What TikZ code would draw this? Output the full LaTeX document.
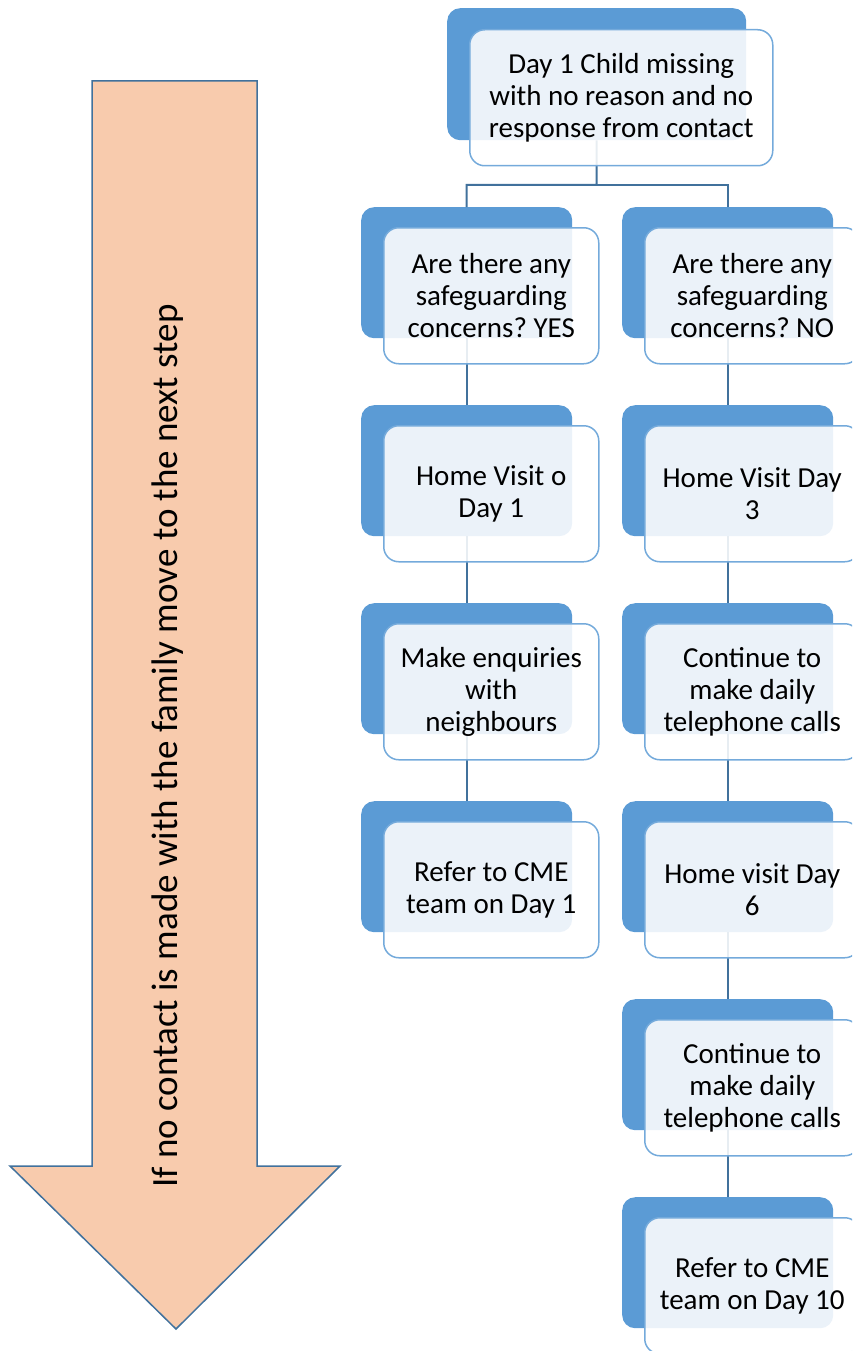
\documentclass[tikz,border=0pt]{standalone}
\usepackage{fontspec}
\setmainfont{Carlito}
\frenchspacing
\usetikzlibrary{positioning}
\definecolor{smartblue}{HTML}{5B9BD5}
\definecolor{linkblue}{HTML}{41719C}
\definecolor{peach}{HTML}{F8CBAD}
\tikzset{
  backbox/.style={fill=smartblue, rounded corners=13pt, minimum width=211pt, minimum height=131pt, inner sep=0pt, anchor=north west},
  frontbox/.style={draw=smartblue!85, line width=1.5pt, fill=white, fill opacity=0.88, text opacity=1, rounded corners=15pt, minimum width=215pt, minimum height=136pt, inner sep=0pt, align=center, font=\fontsize{29}{32}\selectfont, anchor=north west},
  link/.style={draw=linkblue, line width=2pt},
}
\begin{document}
\begin{tikzpicture}[x=1pt, y=-1pt]
  \useasboundingbox (0,0) rectangle (852,1351);
  \clip (0,0) rectangle (852,1351);
  % big arrow on the left
  \draw[linkblue, line width=1.5pt, fill=peach] (92,81) -- (257,81) -- (257,1166) -- (340,1166) -- (176,1329) -- (10,1166) -- (92,1166) -- cycle;
  \node[rotate=90, anchor=base, font=\fontsize{37}{40}\selectfont] (note) at (177,746) {If no contact is made with the family move to the next step};
  % back boxes
  \node[backbox, minimum width=299pt, minimum height=132pt] (start) at (447,8) {};
  \foreach \name/\x/\y in {y1/361/207, y2/361/405, y3/361/603, y4/361/801,
    n1/622/207, n2/622/405, n3/622/603, n4/622/801, n5/622/999, n6/622/1197}
    \node[backbox] (\name) at (\x,\y) {};
  % connectors
  \coordinate (fork) at (596.5,185);
  \draw[link] (start.south) -- (fork) -| (y1.north);
  \draw[link] (fork) -| (n1.north);
  \foreach \a/\b in {y1/y2, y2/y3, y3/y4, n1/n2, n2/n3, n3/n4, n4/n5, n5/n6}
    \draw[link] (\a.south) -- (\b.north);
  % front boxes with the text
  \node[frontbox, minimum width=303pt] (start-t) at ([shift={(22,21)}]start.north west) {Day 1 Child missing\\with no reason and no\\response from contact};
  \foreach \name/\txt in {
    y1/{Are there any\\safeguarding\\concerns? YES},
    y2/{Home Visit o\\Day 1},
    y3/{Make enquiries\\with\\neighbours},
    y4/{Refer to CME\\team on Day 1},
    n1/{Are there any\\safeguarding\\concerns? NO},
    n2/{Home Visit Day\\3},
    n3/{Continue to\\make daily\\telephone calls},
    n4/{Home visit Day\\6},
    n5/{Continue to\\make daily\\telephone calls},
    n6/{Refer to CME\\team on Day 10}}
    \node[frontbox] (\name-t) at ([shift={(22,20)}]\name.north west) {\txt};
\end{tikzpicture}
\end{document}
